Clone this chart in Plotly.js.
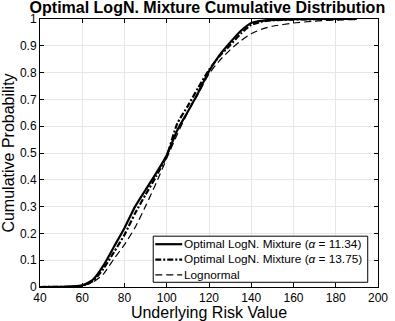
<!DOCTYPE html>
<html>
<head>
<meta charset="utf-8">
<script src="https://cdn.plot.ly/plotly-3.0.1.min.js"></script>
<style>html,body{margin:0;padding:0;background:#fff;}#chart{width:395px;height:321px;}</style>
</head>
<body>
<div id="chart"></div>
<script>
const xVals = [40, 50, 55, 60, 65, 70, 75, 80, 85, 90, 95, 100, 105, 110, 115, 120, 125, 130, 135, 140, 145, 150, 160, 170, 180, 190];
const mix1134 = [0, 0.0005, 0.002, 0.006, 0.027, 0.08, 0.15, 0.22, 0.30, 0.363, 0.425, 0.492, 0.585, 0.655, 0.727, 0.805, 0.865, 0.912, 0.955, 0.985, 0.993, 0.997, 0.999, 1, 1, 1];
const mix1375 = [0, 0.0005, 0.0015, 0.005, 0.022, 0.068, 0.13, 0.195, 0.275, 0.345, 0.413, 0.49, 0.61, 0.676, 0.745, 0.81, 0.862, 0.902, 0.945, 0.978, 0.99, 0.995, 0.998, 0.999, 1, 1];
const lognormal = [0, 0.0003, 0.001, 0.005, 0.018, 0.048, 0.105, 0.158, 0.222, 0.302, 0.388, 0.48, 0.57, 0.652, 0.722, 0.795, 0.845, 0.885, 0.918, 0.945, 0.962, 0.973, 0.985, 0.992, 0.996, 0.998];
const seriesNames = ["Optimal LogN. Mixture (<i>α</i> = 11.34)", "Optimal LogN. Mixture (<i>α</i> = 13.75)", "Lognormal"];
const xTicks = [40, 60, 80, 100, 120, 140, 160, 180, 200];
const yTicks = [0, 0.1, 0.2, 0.3, 0.4, 0.5, 0.6, 0.7, 0.8, 0.9, 1];
const yTickText = ["0", "0.1", "0.2", "0.3", "0.4", "0.5", "0.6", "0.7", "0.8", "0.9", "1"];

const FONT = "Liberation Sans, Arial, Helvetica, sans-serif";
const lineStyles = [
  {color: "#000", width: 2.2, shape: "spline", smoothing: 0.6},
  {color: "#000", width: 2.2, dash: "6px,2px,2px,2px", shape: "spline", smoothing: 0.6},
  {color: "#000", width: 1.2, dash: "7px,4px", shape: "spline", smoothing: 0.6}
];
const seriesData = [mix1134, mix1375, lognormal];
const traces = seriesData.map((ys, i) => ({x: xVals, y: ys, name: seriesNames[i], mode: "lines", line: lineStyles[i], showlegend: false}));

// Custom compact legend (MATLAB-style), in paper coordinates
const legBox = {x0: 0.335, x1: 0.9696, y0: 0.0176, y1: 0.1896};
const legRows = [0.1597, 0.1025, 0.0453];
const legLineX = [0.341, 0.4206];
const legTextX = 0.424;
const shapes = [{type: "rect", xref: "paper", yref: "paper", x0: legBox.x0, x1: legBox.x1, y0: legBox.y0, y1: legBox.y1,
  line: {color: "#000", width: 1}, fillcolor: "#fff", layer: "above"}];
legRows.forEach((ry, i) => {
  shapes.push({type: "line", xref: "paper", yref: "paper", x0: legLineX[0], x1: legLineX[1], y0: ry, y1: ry,
    line: {color: "#000", width: lineStyles[i].width, dash: lineStyles[i].dash || "solid"}, layer: "above"});
});
const annotations = [{xref: "paper", yref: "paper", x: legTextX, y: legRows[1], xanchor: "left", yanchor: "middle", align: "left",
  showarrow: false, borderpad: 0, text: seriesNames.join("<br>"), font: {family: FONT, size: 11.8, color: "#000"}}];

const axisCommon = {
  showline: true, linecolor: "#000", linewidth: 1, mirror: "ticks",
  ticks: "inside", ticklen: 4, tickcolor: "#000",
  showgrid: true, gridcolor: "#e6e6e6", gridwidth: 1, zeroline: false,
  tickfont: {family: FONT, size: 12, color: "#000"}
};
const layout = {
  width: 395, height: 321,
  margin: {l: 39.5, r: 16.7, t: 19.3, b: 34.3},
  paper_bgcolor: "#fff", plot_bgcolor: "#fff",
  title: {text: "<b>Optimal LogN. Mixture Cumulative Distribution</b>", font: {family: FONT, size: 16, color: "#000"}, x: 0.525, xanchor: "center", yref: "container", y: 1, yanchor: "top", pad: {t: 2}},
  xaxis: Object.assign({}, axisCommon, {range: [40, 200], tickvals: xTicks, ticktext: xTicks.map(String),
    title: {text: "Underlying Risk Value", font: {family: FONT, size: 16, color: "#000"}, standoff: 5}}),
  yaxis: Object.assign({}, axisCommon, {range: [0, 1], tickvals: yTicks, ticktext: yTickText,
    title: {text: "Cumulative Probability", font: {family: FONT, size: 16, color: "#000"}, standoff: 2}}),
  showlegend: false,
  shapes: shapes,
  annotations: annotations
};
Plotly.newPlot("chart", traces, layout, {displayModeBar: false, staticPlot: true});
</script>
</body>
</html>
